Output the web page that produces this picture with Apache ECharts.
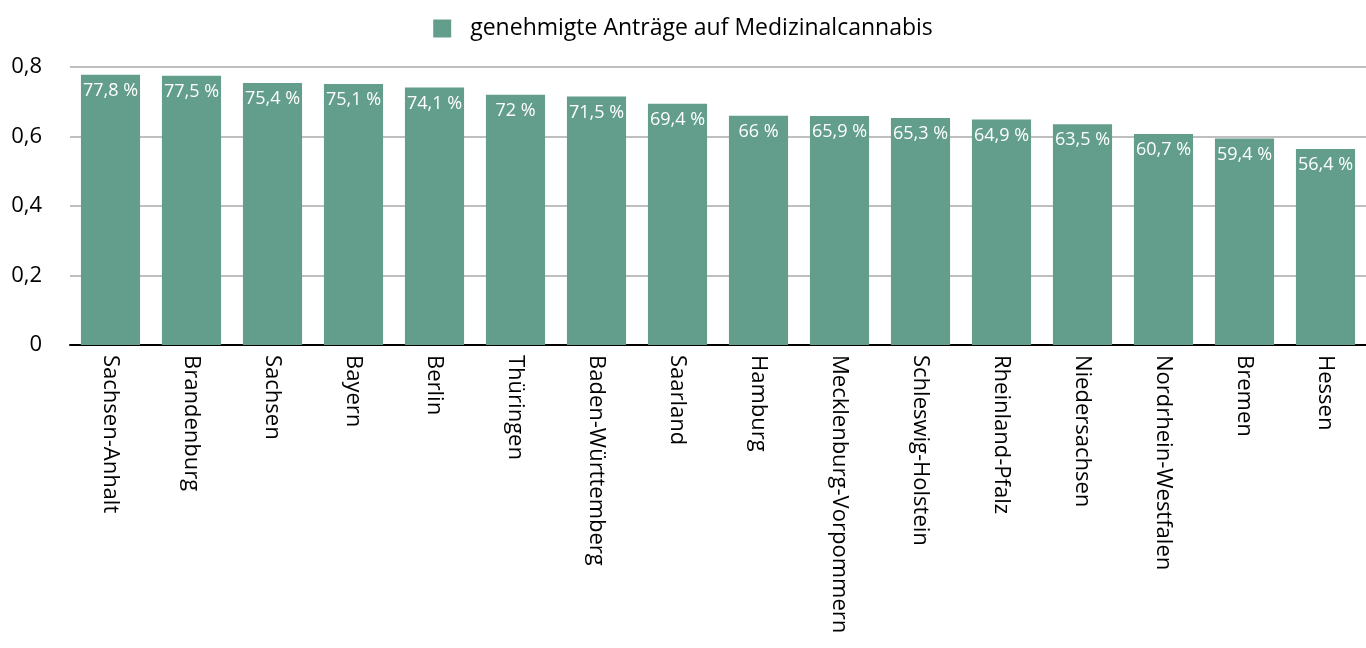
<!DOCTYPE html>
<html><head><meta charset="utf-8">
<script src="https://cdn.jsdelivr.net/npm/echarts@6/dist/echarts.min.js"></script>
<style>html,body{margin:0;padding:0;background:#fff}#c{width:1366px;height:648px}</style>
</head><body><div id="c"></div>
<script>
const categories = ["Sachsen-Anhalt","Brandenburg","Sachsen","Bayern","Berlin","Thüringen","Baden-Württemberg","Saarland","Hamburg","Mecklenburg-Vorpommern","Schleswig-Holstein","Rheinland-Pfalz","Niedersachsen","Nordrhein-Westfalen","Bremen","Hessen"];
const values = [0.778,0.775,0.754,0.751,0.741,0.72,0.715,0.694,0.66,0.659,0.653,0.649,0.635,0.607,0.594,0.564];
const seriesName = "genehmigte Anträge auf Medizinalcannabis";
const yTicks = [0, 0.2, 0.4, 0.6, 0.8];

const font = "'Open Sans', 'DejaVu Sans', sans-serif";
const fmtPct = v => (Math.round(v*1000)/10).toString().replace('.', ',') + ' %';
const chart = echarts.init(document.getElementById('c'));
chart.setOption({
  animation: false,
  textStyle: { fontFamily: font },
  legend: {
    top: 12, left: 'center',
    icon: 'rect',
    itemWidth: 18, itemHeight: 18, itemGap: 10,
    textStyle: { fontSize: 23, color: '#000', fontFamily: font, padding: [0,0,0,14] },
    data: [seriesName]
  },
  grid: { left: 70, right: 0, top: 67, bottom: 303 },
  xAxis: {
    type: 'category', data: categories,
    axisLine: { lineStyle: { color: '#000', width: 2 } },
    axisTick: { show: false },
    axisLabel: { rotate: -90, fontSize: 22, color: '#000', margin: 10, fontFamily: font, interval: 0 }
  },
  yAxis: {
    type: 'value', min: 0, max: yTicks[yTicks.length-1], interval: 0.2,
    axisLine: { show: false }, axisTick: { show: false },
    splitLine: { lineStyle: { color: '#bfbfbf', width: 2 } },
    axisLabel: { fontSize: 22, color: '#000', margin: 28, fontFamily: font,
      formatter: v => v === 0 ? '0' : v.toFixed(1).replace('.', ',') }
  },
  series: [{
    name: seriesName, type: 'bar', data: values,
    barCategoryGap: '27%',
    itemStyle: { color: '#629e8b' },
    label: { show: true, position: 'insideTop', distance: 7, color: '#fff', fontSize: 18, fontFamily: font,
      formatter: p => fmtPct(p.value) }
  }]
});
</script></body></html>
